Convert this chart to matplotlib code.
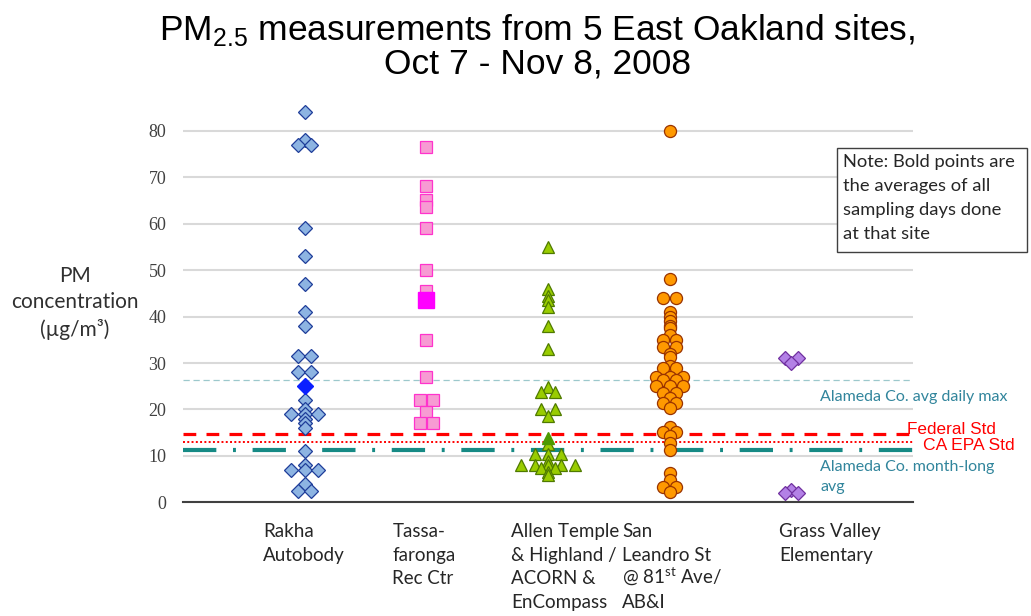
"""PM2.5 measurements from five East Oakland sites, drawn as a strip chart."""

import numpy as np
import matplotlib.pyplot as plt
from matplotlib.patches import Rectangle

# Site names, as printed under the axis (one entry per line).
site_labels = [
    ["Rakha", "Autobody"],
    ["Tassa-", "faronga", "Rec Ctr"],
    ["Allen Temple", "& Highland /", "ACORN &", "EnCompass"],
    ["San", "Leandro St", "@ 81$^\\mathregular{st}$ Ave/", "AB&I"],
    ["Grass Valley", "Elementary"],
]

# Daily PM2.5 readings per site (ug/m3).
rakha = [84, 78, 77, 77, 59, 53, 47, 41, 38, 31.5, 31.5, 28, 28, 22, 20,
         19, 19, 19, 18, 17, 16, 11, 8, 7, 7, 7, 4, 2.5, 2.5]
tassafaronga = [76.5, 68, 65, 63.5, 59, 50, 45.5, 35, 27, 22, 22, 19.5, 17, 17]
allen_temple = [55, 46, 44.5, 43.5, 42, 38, 33, 24.8, 23.8, 23.8, 20, 20,
                18.5, 12.5, 10.5, 10.5, 10.5, 9, 8, 8, 8, 8, 8, 7.5, 7.5,
                6.5, 6]
san_leandro = [80, 48, 44, 44, 41, 40, 39, 38, 37.5, 36, 35, 35, 33.5, 33.5,
               32, 31.3, 29.3, 28.9, 28.9, 27, 27, 27, 26.3, 26.3, 25, 25, 25,
               23.5, 23.5, 22.5, 21.3, 21.3, 20.3, 16.3, 15.2, 15.2, 14.2,
               12.8, 11.3, 6.3, 4.8, 3.4, 3.4, 2.3]
grass_valley = [31, 31, 30, 2.7, 2, 2]

# Averages over all sampling days (the bold points), where visible.
site_averages = [25, 43.5, 13.8, None, None]

# Reference levels (ug/m3).
alameda_daily_max = 26.3
federal_std = 14.8
ca_epa_std = 13.1
alameda_month_avg = 11.3

note_lines = ["Note: Bold points are", "the averages of all",
              "sampling days done", "at that site"]

site_values = [rakha, tassafaronga, allen_temple, san_leandro, grass_valley]

# Marker styles per site: marker, size, face, edge, average colour, average size.
styles = [
    ("D", 7, "#8db4e2", "#1f3d99", "#0a1fff", 8),
    ("s", 9, "#f79bd3", "#ff33cc", "#ff00ff", 12),
    ("^", 8.5, "#99cc00", "#4f7a00", "#4d9900", 9),
    ("o", 8.7, "#ff9900", "#993300", "#ff8000", 9),
    ("D", 7, "#b381e6", "#7030a0", "#8030c0", 8),
]

W, H = 1031, 616


def spread_duplicates(values, step):
    """Return horizontal offsets that fan out equal values side by side."""
    values = np.asarray(values, dtype=float)
    offsets = np.zeros(len(values))
    for v in np.unique(values):
        idx = np.flatnonzero(values == v)
        offsets[idx] = (np.arange(len(idx)) - (len(idx) - 1) / 2) * step
    return offsets


fig = plt.figure(figsize=(W / 100, H / 100), dpi=100)
ax = fig.add_axes([0.1775, 0.1843, 0.708, 0.649])

# Horizontal reference lines.
ax.axhline(alameda_daily_max, color="#9cc8cc", lw=0.9,
           linestyle=(0, (5, 3)), zorder=1)
ax.axhline(federal_std, color="#ff0000", lw=2.3,
           linestyle=(0, (4, 3.2)), zorder=1)
ax.axhline(ca_epa_std, color="#ff0000", lw=1.4,
           linestyle=(0, (1, 1.2)), zorder=1)
ax.axhline(alameda_month_avg, color="#168a85", lw=3,
           linestyle=(0, (8, 4, 0.7, 4)), zorder=1)

# Points for every site.
for i, (values, style) in enumerate(zip(site_values, styles)):
    marker, size, face, edge, avg_color, avg_size = style
    x = i + 1 + spread_duplicates(values, 0.11)
    ax.plot(x, values, linestyle="none", marker=marker, markersize=size,
            markerfacecolor=face, markeredgecolor=edge, markeredgewidth=0.9,
            zorder=3, clip_on=False)
    if site_averages[i] is not None:
        ax.plot(i + 1, site_averages[i], linestyle="none", marker=marker,
                markersize=avg_size, markerfacecolor=avg_color,
                markeredgecolor=avg_color, zorder=4, clip_on=False)

ax.set_xlim(0, 6)
ax.set_ylim(0, 86)
ax.set_xticks([])
ax.set_yticks(np.arange(0, 90, 10))
ax.tick_params(axis="y", length=0, pad=12, labelsize=13, labelcolor="#404040")
for label in ax.get_yticklabels():
    label.set_family("Liberation Serif")
ax.yaxis.grid(True, color="#d9d9d9", lw=1.5)
ax.set_axisbelow(True)
for side in ["left", "right", "top"]:
    ax.spines[side].set_visible(False)
ax.spines["bottom"].set_color("#404040")
ax.spines["bottom"].set_linewidth(1.5)

# Site names under the axis, one line at a time so every line keeps the same pitch.
label_x = [0.66, 1.72, 2.70, 3.61, 4.90]
for x, lines in zip(label_x, site_labels):
    for j, line in enumerate(lines):
        ax.annotate(line, xy=(x, 0), xycoords="data",
                    xytext=(0, -25 - j * 16.9), textcoords="offset points",
                    ha="left", va="baseline", family="Lato", fontsize=13.5,
                    color="#262626", annotation_clip=False)

# Labels for the reference lines.
ax.text(5.24, 22.7, "Alameda Co. avg daily max", color="#31859c",
        family="Lato", fontsize=11.5, va="center", clip_on=False)
ax.text(5.955, 15.8, "Federal Std", color="#ff0000",
        family="Liberation Sans", fontsize=12.3, va="center", clip_on=False)
ax.text(6.08, 12.2, "CA EPA Std", color="#ff0000",
        family="Liberation Sans", fontsize=12.6, va="center", clip_on=False)
ax.text(5.24, 5.4, "Alameda Co. month-long\navg", color="#31859c",
        family="Lato", fontsize=11.5, va="center", linespacing=1.55,
        clip_on=False)

# Note box, drawn in pixel units of the figure.
fig.patches.append(Rectangle((837 / W, 1 - 252 / H), 190 / W, 104 / H,
                             transform=fig.transFigure, facecolor="white",
                             edgecolor="#404040", lw=1))
for j, line in enumerate(note_lines):
    fig.text(843 / W, 1 - (162 + 24 * j) / H, line, family="Lato",
             fontsize=13.2, color="#262626", ha="left", va="center")

# Axis title on the left.
fig.text(75 / W, 1 - 303 / H, "PM\nconcentration\n(\u00b5g/m\u00b3)",
         family="Lato", fontsize=15, color="#303030", ha="center", va="center",
         linespacing=1.4)

# Chart title, two centred lines in one text.
fig.text(0.521, 1 - 46 / H,
         "PM$_\\mathregular{2.5}$ measurements from 5 East Oakland sites,\n"
         "Oct 7 - Nov 8, 2008",
         family="Liberation Sans", fontsize=25.5, ha="center", va="center",
         multialignment="center", linespacing=0.97)

fig.savefig("out.png", dpi=100)
